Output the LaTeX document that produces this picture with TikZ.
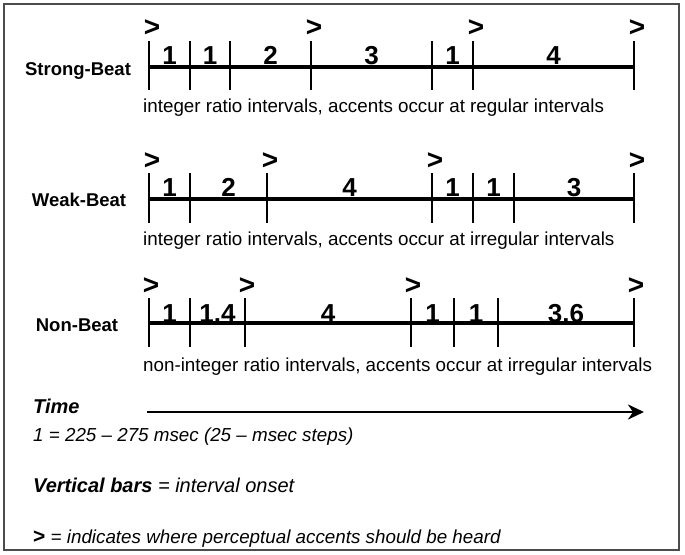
\documentclass[tikz,border=0pt]{standalone}
\usepackage{fontspec}
\setmainfont{Liberation Sans}
\usetikzlibrary{arrows.meta,calc}

\tikzset{
    frame/.style={draw=black!70, line width=1.6pt},
    beat/.style={line width=4pt},
    tick/.style={line width=2.8pt},
    num/.style={font=\bfseries\fontsize{26}{28}\selectfont, inner sep=0pt, anchor=base},
    accent/.style={font=\bfseries\fontsize{28}{30}\selectfont, inner sep=0pt},
    rowlabel/.style={font=\bfseries\fontsize{18.5}{22}\selectfont, anchor=base, inner sep=0pt},
    remark/.style={font=\fontsize{18.8}{22}\selectfont, anchor=base west, inner sep=0pt},
    legend/.style={font=\itshape\fontsize{18.8}{22}\selectfont, anchor=base west, inner sep=0pt},
    timeline/.style={line width=2.8pt, -{Stealth[length=16pt, width=15pt, inset=5pt]}},
}

\begin{document}
\begin{tikzpicture}[x=1pt, y=-1pt]
\useasboundingbox (0,0) rectangle (685,554);
\draw [frame] (4,4) rectangle (679,550);

% Strong-Beat
\node [rowlabel] (strong) at (78,75) {Strong-Beat};
\foreach \n/\x in {0/149,1/190,2/230,3/311,4/432,5/473,6/634}
    \coordinate (s\n) at (\x,67);
\draw [beat] (s0) -- (s6);
\foreach \n in {0,...,6}
    \draw [tick] ([yshift=26pt]s\n) -- ([yshift=-23pt]s\n);
\node [num] (s01) at ($(s0)!.5!(s1)+(0,-3)$) {1};
\node [num] (s12) at ($(s1)!.5!(s2)+(0,-3)$) {1};
\node [num] (s23) at ($(s2)!.5!(s3)+(0,-3)$) {2};
\node [num] (s34) at ($(s3)!.5!(s4)+(0,-3)$) {3};
\node [num] (s45) at ($(s4)!.5!(s5)+(0,-3)$) {1};
\node [num] (s56) at ($(s5)!.5!(s6)+(0,-3)$) {4};
\foreach \n in {0,3,5,6}
    \node [accent] (sa\n) at ([shift={(3,-39)}]s\n) {>};
\node [remark] (strongtxt) at (143,112)
    {integer ratio intervals, accents occur at regular intervals};

% Weak-Beat
\node [rowlabel] (weak) at (79,206) {Weak-Beat};
\foreach \n/\x in {0/149,1/190,2/267,3/432,4/473,5/514,6/634}
    \coordinate (w\n) at (\x,199);
\draw [beat] (w0) -- (w6);
\foreach \n in {0,...,6}
    \draw [tick] ([yshift=26pt]w\n) -- ([yshift=-24pt]w\n);
\node [num] (w01) at ($(w0)!.5!(w1)+(0,-3)$) {1};
\node [num] (w12) at ($(w1)!.5!(w2)+(0,-3)$) {2};
\node [num] (w23) at ($(w2)!.5!(w3)+(0,-3)$) {4};
\node [num] (w34) at ($(w3)!.5!(w4)+(0,-3)$) {1};
\node [num] (w45) at ($(w4)!.5!(w5)+(0,-3)$) {1};
\node [num] (w56) at ($(w5)!.5!(w6)+(0,-3)$) {3};
\foreach \n in {0,2,3,6}
    \node [accent] (wa\n) at ([shift={(3,-38)}]w\n) {>};
\node [remark] (weaktxt) at (143,245)
    {integer ratio intervals, accents occur at irregular intervals};

% Non-Beat
\node [rowlabel] (non) at (77,331) {Non-Beat};
\foreach \n/\x in {0/149,1/190,2/245,3/411,4/454,5/498,6/634}
    \coordinate (n\n) at (\x,323);
\draw [beat] (n0) -- (n6);
\foreach \n in {0,...,6}
    \draw [tick] ([yshift=25pt]n\n) -- ([yshift=-24pt]n\n);
\node [num] (n01) at ($(n0)!.5!(n1)+(0,-1)$) {1};
\node [num] (n12) at ($(n1)!.5!(n2)+(0,-1)$) {1.4};
\node [num] (n23) at ($(n2)!.5!(n3)+(0,-1)$) {4};
\node [num] (n34) at ($(n3)!.5!(n4)+(0,-1)$) {1};
\node [num] (n45) at ($(n4)!.5!(n5)+(0,-1)$) {1};
\node [num] (n56) at ($(n5)!.5!(n6)+(0,-1)$) {3.6};
\foreach \n in {0,2,3,6}
    \node [accent] (na\n) at ([shift={(2,-37)}]n\n) {>};
\node [remark] (nontxt) at (143,371)
    {non-integer ratio intervals, accents occur at irregular intervals};

% legend
\node [legend, font=\bfseries\itshape\fontsize{20}{24}\selectfont] (time) at (33,413) {Time};
\coordinate (t0) at (147,412);
\coordinate (t1) at (644,412);
\draw [timeline] (t0) -- (t1);
\node [legend] (unit) at (33,441) {1 = 225 -- 275 msec (25 -- msec steps)};
\node [legend] (bars) at (33,492)
    {\fontsize{20}{24}\selectfont\bfseries Vertical bars \mdseries = \itshape interval onset};
\node [legend] (marks) at (33,543)
    {{\upshape\bfseries\fontsize{21}{24}\selectfont >} = indicates where perceptual accents should be heard};
\end{tikzpicture}
\end{document}
